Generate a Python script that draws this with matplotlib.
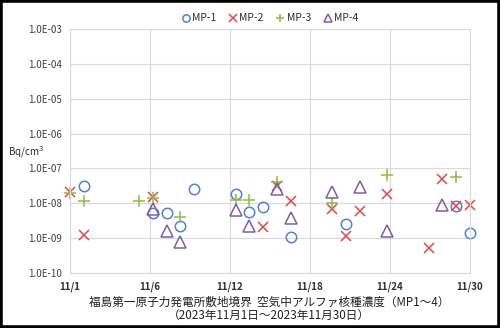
import matplotlib
matplotlib.use("Agg")
import matplotlib.pyplot as plt
import matplotlib.ticker as mticker
from matplotlib.patches import Rectangle
import numpy as np

plt.rcParams['font.family'] = ['Noto Sans CJK JP', 'DejaVu Sans']

# day of month (November 2023) and concentrations, Bq/cm3
mp1_day = [2, 7, 8, 9, 10, 13, 14, 15, 17, 21, 29, 30]
mp1_val = [3.2e-8, 5.1e-9, 5.3e-9, 2.2e-9, 2.6e-8, 1.9e-8, 5.6e-9, 7.6e-9,
           1.1e-9, 2.6e-9, 8.3e-9, 1.45e-9]

mp2_day = [1, 2, 7, 15, 16, 17, 20, 21, 22, 24, 27, 28, 29, 30]
mp2_val = [2.1e-8, 1.2e-9, 1.5e-8, 2.1e-9, 3.1e-8, 1.2e-8, 6.7e-9, 1.15e-9,
           5.9e-9, 1.8e-8, 5.2e-10, 5.1e-8, 8.5e-9, 9.1e-9]

mp3_day = [1, 2, 6, 7, 9, 13, 14, 16, 20, 24, 29]
mp3_val = [2.0e-8, 1.17e-8, 1.2e-8, 1.45e-8, 4.1e-9, 1.23e-8, 1.23e-8,
           4.1e-8, 1.0e-8, 6.3e-8, 5.6e-8]

mp4_day = [7, 8, 9, 13, 14, 16, 17, 20, 22, 24, 28]
mp4_val = [7.0e-9, 1.6e-9, 7.9e-10, 6.3e-9, 2.2e-9, 2.6e-8, 3.9e-9, 2.1e-8,
           2.9e-8, 1.6e-9, 9.1e-9]

x_labels = ['11/1', '11/6', '11/12', '11/18', '11/24', '11/30']
title1 = '福島第一原子力発電所敷地境界  空気中アルファ核種濃度（MP1～4）'
title2 = '（2023年11月1日～2023年11月30日）'

fig = plt.figure(figsize=(5, 3.28), dpi=100)
ax = fig.add_axes([70 / 500, 1 - 273 / 328, 400 / 500, 244 / 328])

kw = dict(ls='none', mew=1.1, clip_on=False)
ax.plot(mp1_day, mp1_val, 'o', mfc='none', mec='#4F81E0', ms=7.5,
        label='MP-1', **kw)
ax.plot(mp2_day, mp2_val, 'x', color='#E04848', ms=7.5, label='MP-2', **kw)
ax.plot(mp3_day, mp3_val, '+', color='#8DBE3F', ms=8, label='MP-3', **kw)
ax.plot(mp4_day, mp4_val, '^', mfc='none', mec='#7E5CAE', ms=8.5,
        label='MP-4', **kw)

ax.set_yscale('log')
ax.set_ylim(1e-10, 1e-3)
ax.set_xlim(1, 30)
ax.set_xticks(np.linspace(1, 30, len(x_labels)))
ax.set_xticklabels(x_labels)
ax.yaxis.set_major_locator(mticker.LogLocator(base=10, numticks=10))
ax.yaxis.set_minor_locator(mticker.NullLocator())
ax.yaxis.set_major_formatter(mticker.FuncFormatter(
    lambda v, p: '{:.1E}'.format(v)))

ax.grid(True, color='#D9D9D9', lw=0.8)
for s in ax.spines.values():
    s.set_color('#D9D9D9')
    s.set_linewidth(0.8)
ax.tick_params(length=0, labelsize=7, colors='#404040', pad=6)
for t in ax.get_xticklabels():
    t.set_fontweight('bold')
    t.set_color('#303030')

ax.legend(loc='lower center', bbox_to_anchor=(0.5, 1.0), ncol=4, frameon=False,
          fontsize=7.5, handletextpad=0.2, columnspacing=1.2, handlelength=0.8,
          markerscale=0.7, borderaxespad=0.15, labelcolor='#303030')

fig.text(8 / 500, 1 - 152 / 328, 'Bq/cm$^3$', fontsize=7, color='#303030',
         va='center', ha='left')
fig.text(0.538, 1 - 302 / 328, title1, fontsize=8.4, ha='center', va='center',
         color='#202020')
fig.text(0.538, 1 - 316 / 328, title2, fontsize=8.4, ha='center', va='center',
         color='#202020')

fig.patches.append(Rectangle((0, 0), 1, 1, transform=fig.transFigure,
                             fill=False, ec='black', lw=4, zorder=10))

fig.savefig('out.png', dpi=100)
